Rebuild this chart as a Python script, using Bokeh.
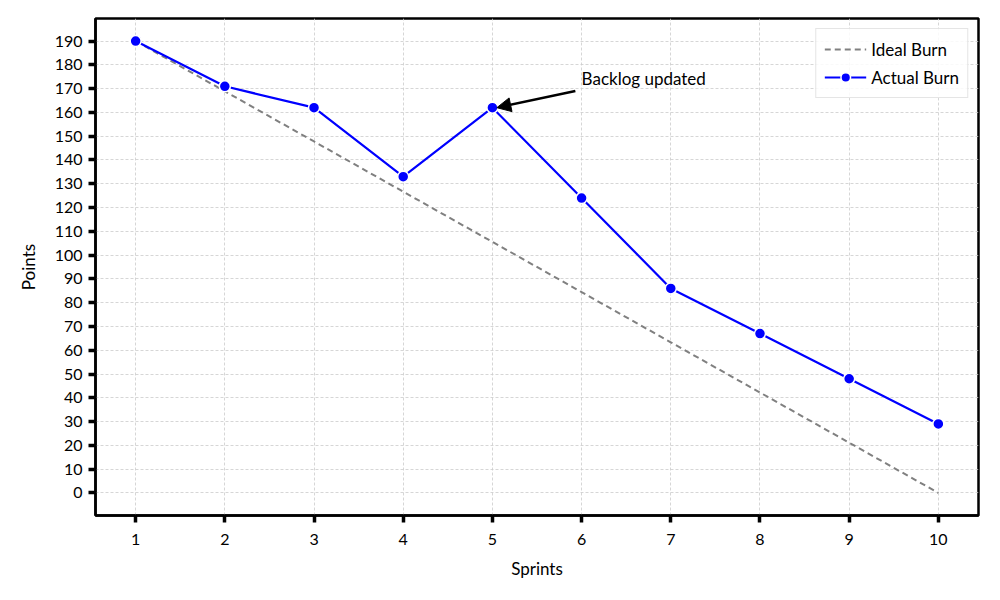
from bokeh.plotting import figure
from bokeh.models import Arrow, NormalHead, Label, FixedTicker, Legend, LegendItem, Range1d
from bokeh.embed import file_html
from bokeh.resources import INLINE

sprints = [1, 2, 3, 4, 5, 6, 7, 8, 9, 10]
ideal_burn = [190, 168.89, 147.78, 126.67, 105.56, 84.44, 63.33, 42.22, 21.11, 0]
actual_burn = [190, 171, 162, 133, 162, 124, 86, 67, 48, 29]
y_ticks = list(range(0, 200, 10))
annot_text = "Backlog updated"
annot_point = (5, 162)
annot_text_pos = (6, 170)

FONT = "Lato"

p = figure(width=984, height=584, output_backend="svg", toolbar_location=None,
           x_range=Range1d(0.55, 10.45), y_range=Range1d(-9.5, 199.5),
           min_border_left=95, min_border_right=6, min_border_top=18, min_border_bottom=69)

p.background_fill_color = "white"
p.border_fill_color = "white"
p.outline_line_color = "black"
p.outline_line_width = 2.5

p.xaxis.ticker = FixedTicker(ticks=sprints)
p.yaxis.ticker = FixedTicker(ticks=y_ticks)
for ax in (p.xaxis, p.yaxis):
    ax.axis_line_color = "black"
    ax.axis_line_width = 2.5
    ax.major_tick_line_color = "black"
    ax.major_tick_line_width = 3.5
    ax.major_tick_out = 7
    ax.major_tick_in = 0
    ax.minor_tick_line_color = None
    ax.major_label_text_font = FONT
    ax.major_label_text_font_size = "16px"
    ax.major_label_text_color = "black"
    ax.axis_label_text_font = FONT
    ax.axis_label_text_font_size = "17px"
    ax.axis_label_text_font_style = "normal"
    ax.axis_label_text_color = "black"
p.xaxis.axis_label = "Sprints"
p.yaxis.axis_label = "Points"
p.xaxis.major_label_standoff = 11
p.xaxis.axis_label_standoff = 10
p.yaxis.major_label_standoff = 6
p.yaxis.axis_label_standoff = 13

p.grid.grid_line_color = "#cccccc"
p.grid.grid_line_dash = "3 2"
p.grid.grid_line_width = 0.8

r_ideal = p.line(sprints, ideal_burn, line_color="gray", line_width=2, line_dash="6 4")
r_actual_line = p.line(sprints, actual_burn, line_color="blue", line_width=2.2)
r_actual_pts = p.scatter(sprints, actual_burn, size=11, fill_color="blue",
                         line_color="white", line_width=1.5)

p.add_layout(Arrow(end=NormalHead(size=14, fill_color="black", line_color="black"),
                   x_start=5.93, y_start=169, x_end=annot_point[0] + 0.05, y_end=annot_point[1],
                   line_color="black", line_width=2.5))
p.add_layout(Label(x=annot_text_pos[0], y=annot_text_pos[1], text=annot_text,
                   text_font=FONT, text_font_size="17px", text_color="black",
                   text_baseline="bottom", text_align="left"))

legend = Legend(items=[LegendItem(label="Ideal Burn", renderers=[r_ideal]),
                       LegendItem(label="Actual Burn", renderers=[r_actual_line, r_actual_pts])],
                location="top_right")
legend.label_text_font = FONT
legend.label_text_font_size = "17px"
legend.label_text_color = "black"
legend.border_line_color = "#cccccc"
legend.border_line_width = 1
legend.background_fill_alpha = 0.85
legend.glyph_width = 42
legend.label_height = 24
legend.glyph_height = 24
legend.margin = 10
legend.padding = 8
legend.spacing = 4
p.add_layout(legend)

open("out.html", "w").write(file_html(p, INLINE))
